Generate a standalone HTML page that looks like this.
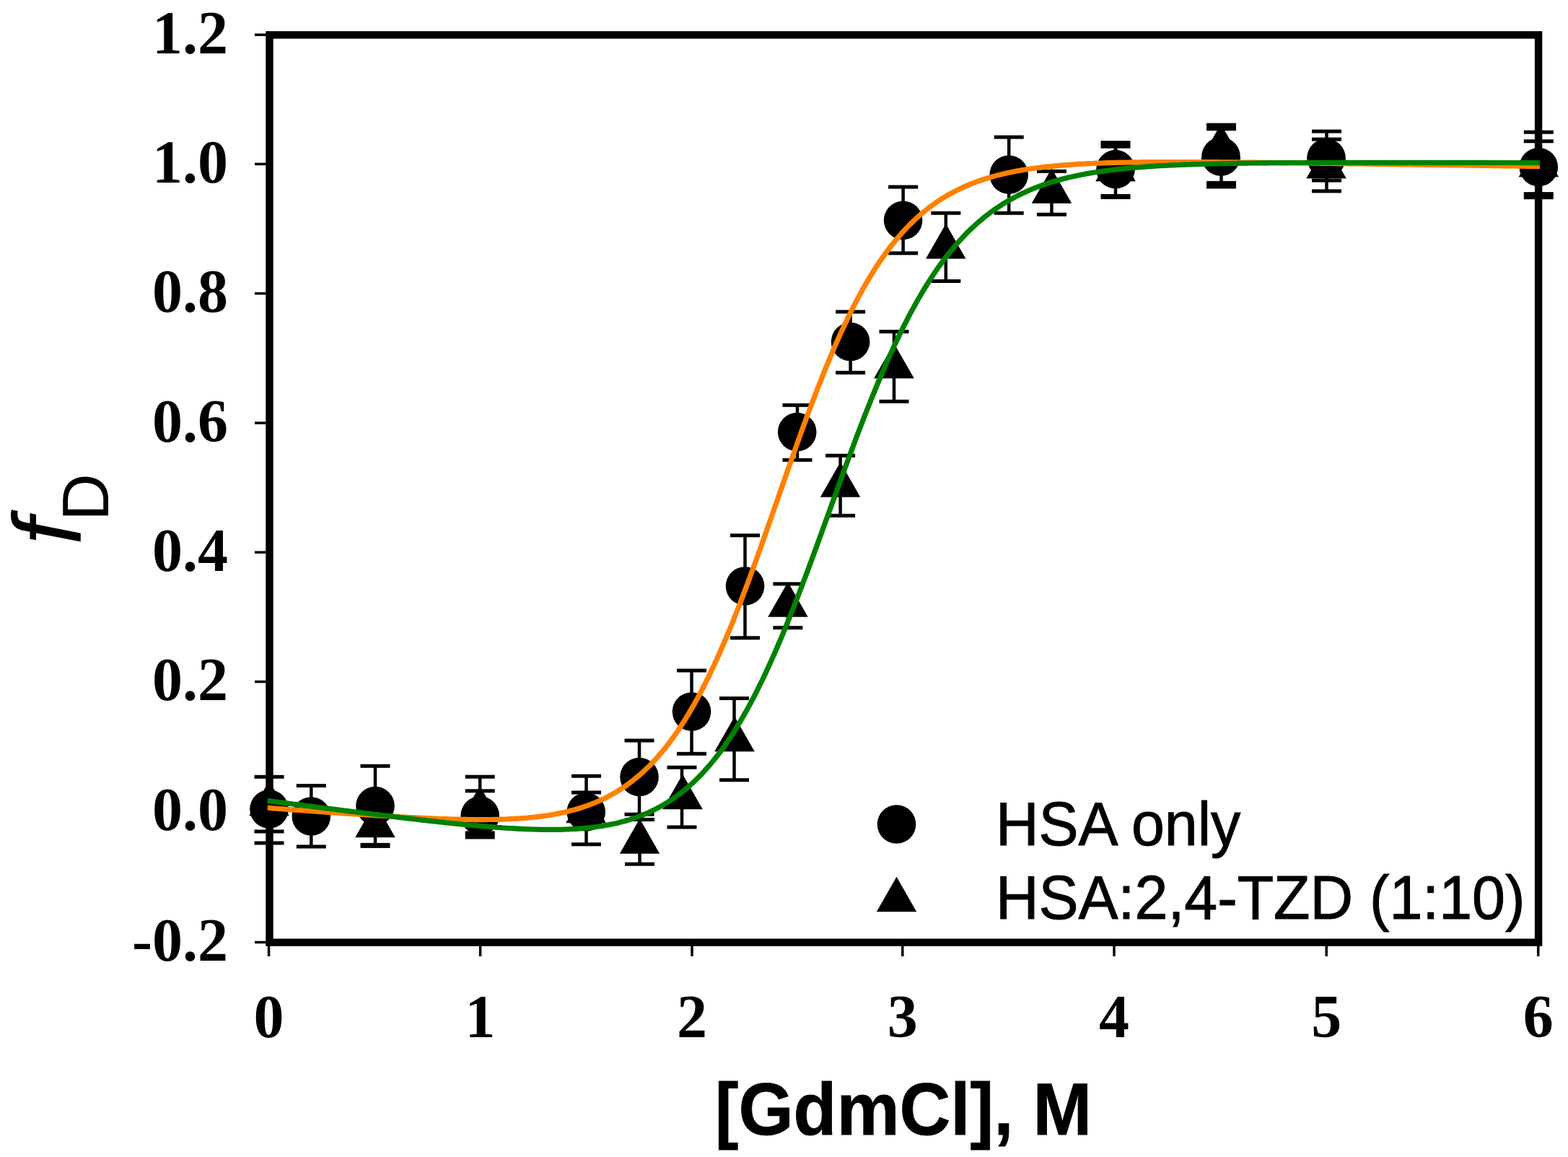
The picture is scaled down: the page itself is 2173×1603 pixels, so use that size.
<!DOCTYPE html><html><head><meta charset="utf-8"><style>html,body{margin:0;padding:0;background:#fff;}svg{display:block;}</style></head><body>
<svg width="2173" height="1603" viewBox="0 0 2173 1603">
<rect width="2173" height="1603" fill="#fff"/>
<rect x="373.5" y="48.4" width="1758.6" height="1257.3" fill="none" stroke="#000" stroke-width="10.4"/>
<g stroke="#000" stroke-width="4.5" fill="none">
<path d="M373,1076.3 V1168"/>
<path d="M431.3,1088.5 V1173"/>
<path d="M520,1061.3 V1171.4"/>
<path d="M665.2,1076.2 V1161"/>
<path d="M812.5,1075.2 V1169.8"/>
<path d="M886,1026 V1128.3"/>
<path d="M886.5,1135.5 V1197.2"/>
<path d="M958.5,929 V1044.3"/>
<path d="M945,1063.2 V1146"/>
<path d="M1017.5,967.5 V1080.7"/>
<path d="M1032.5,741.8 V883.8"/>
<path d="M1091.9,809 V869.7"/>
<path d="M1105,561.3 V637.3"/>
<path d="M1164.6,631.2 V714.4"/>
<path d="M1178.6,432 V516.3"/>
<path d="M1239,459.4 V556.2"/>
<path d="M1251.6,259 V350.8"/>
<path d="M1310.8,295.2 V389.5"/>
<path d="M1398.2,190 V295.2"/>
<path d="M1457.4,237.3 V297.2"/>
<path d="M1546,200.3 V272.4"/>
<path d="M1692.5,175.8 V256.1"/>
<path d="M1838.5,182 V264.8"/>
<path d="M2132.3,183.1 V271.1"/>
</g>
<g fill="#000">
<rect x="352.5" y="1073.80" width="41" height="5"/>
<rect x="352.5" y="1149.50" width="41" height="5"/>
<rect x="352.5" y="1165.50" width="41" height="5"/>
<rect x="410.8" y="1086.00" width="41" height="5"/>
<rect x="410.8" y="1170.50" width="41" height="5"/>
<rect x="499.5" y="1058.80" width="41" height="5"/>
<rect x="499.5" y="1167.90" width="41" height="7"/>
<rect x="644.7" y="1073.70" width="41" height="5"/>
<rect x="644.7" y="1093.30" width="41" height="5"/>
<rect x="792.0" y="1072.70" width="41" height="5"/>
<rect x="792.0" y="1095.50" width="41" height="5"/>
<rect x="792.0" y="1167.30" width="41" height="5"/>
<rect x="865.5" y="1023.50" width="41" height="5"/>
<rect x="865.5" y="1125.80" width="41" height="5"/>
<rect x="866.0" y="1133.00" width="41" height="5"/>
<rect x="866.0" y="1194.70" width="41" height="5"/>
<rect x="938.0" y="926.50" width="41" height="5"/>
<rect x="938.0" y="1041.80" width="41" height="5"/>
<rect x="924.5" y="1060.70" width="41" height="5"/>
<rect x="924.5" y="1143.50" width="41" height="5"/>
<rect x="997.0" y="965.00" width="41" height="5"/>
<rect x="997.0" y="1078.20" width="41" height="5"/>
<rect x="1012.0" y="739.30" width="41" height="5"/>
<rect x="1012.0" y="881.30" width="41" height="5"/>
<rect x="1071.4" y="806.50" width="41" height="5"/>
<rect x="1071.4" y="867.20" width="41" height="5"/>
<rect x="1084.5" y="558.80" width="41" height="5"/>
<rect x="1084.5" y="634.80" width="41" height="5"/>
<rect x="1144.1" y="628.70" width="41" height="5"/>
<rect x="1144.1" y="711.90" width="41" height="5"/>
<rect x="1158.1" y="429.50" width="41" height="5"/>
<rect x="1158.1" y="513.80" width="41" height="5"/>
<rect x="1218.5" y="456.90" width="41" height="5"/>
<rect x="1218.5" y="553.70" width="41" height="5"/>
<rect x="1231.1" y="256.50" width="41" height="5"/>
<rect x="1231.1" y="348.30" width="41" height="5"/>
<rect x="1290.3" y="292.70" width="41" height="5"/>
<rect x="1290.3" y="387.00" width="41" height="5"/>
<rect x="1377.7" y="187.50" width="41" height="5"/>
<rect x="1377.7" y="292.70" width="41" height="5"/>
<rect x="1436.9" y="234.80" width="41" height="5"/>
<rect x="1436.9" y="294.70" width="41" height="5"/>
<rect x="1525.5" y="195.05" width="41" height="10.5"/>
<rect x="1525.5" y="268.90" width="41" height="7"/>
<rect x="1672.0" y="170.55" width="41" height="10.5"/>
<rect x="1672.0" y="250.85" width="41" height="10.5"/>
<rect x="1818.0" y="179.50" width="41" height="5"/>
<rect x="1818.0" y="190.50" width="41" height="5"/>
<rect x="1818.0" y="247.50" width="41" height="5"/>
<rect x="1818.0" y="262.30" width="41" height="5"/>
<rect x="2111.8" y="180.60" width="41" height="5"/>
<rect x="2111.8" y="193.20" width="41" height="5"/>
<rect x="2111.8" y="266.10" width="41" height="10"/>
<rect x="644.7" y="1151.50" width="41" height="11"/>
</g>
<g fill="#000">
<circle cx="373" cy="1121" r="26.8"/>
<circle cx="431.3" cy="1131" r="26.8"/>
<circle cx="520" cy="1116.6" r="26.8"/>
<circle cx="665.2" cy="1130" r="26.8"/>
<circle cx="812.2" cy="1125" r="26.8"/>
<circle cx="886" cy="1076.5" r="26.8"/>
<circle cx="958.5" cy="986" r="26.8"/>
<circle cx="1032.5" cy="812" r="26.8"/>
<circle cx="1104.7" cy="598.6" r="26.8"/>
<circle cx="1178.6" cy="473.5" r="26.8"/>
<circle cx="1251.6" cy="305.3" r="26.8"/>
<circle cx="1398.2" cy="242" r="26.8"/>
<circle cx="1546" cy="234.6" r="26.8"/>
<circle cx="1692" cy="217" r="26.8"/>
<circle cx="1838" cy="219" r="26.8"/>
<circle cx="2132.3" cy="231.5" r="26.8"/>
<path d="M373,1081.7 L400.8,1130.2 L345.2,1130.2Z"/>
<path d="M520,1111.7 L547.8,1160.2 L492.2,1160.2Z"/>
<path d="M665,1088.7 L692.8,1137.2 L637.2,1137.2Z"/>
<path d="M886.5,1134.2 L914.2,1182.7 L858.8,1182.7Z"/>
<path d="M946,1072.7 L973.8,1121.2 L918.2,1121.2Z"/>
<path d="M1018,992.7 L1045.8,1041.2 L990.2,1041.2Z"/>
<path d="M1091.9,806.2 L1119.7,854.7 L1064.2,854.7Z"/>
<path d="M1164.6,640.2 L1192.3,688.7 L1136.8,688.7Z"/>
<path d="M1239,475.7 L1266.8,524.2 L1211.2,524.2Z"/>
<path d="M1310.8,309.9 L1338.5,358.4 L1283.0,358.4Z"/>
<path d="M1457.4,233.2 L1485.2,281.7 L1429.7,281.7Z"/>
<path d="M1546,202.7 L1573.8,251.2 L1518.2,251.2Z"/>
<path d="M1692,171.7 L1719.8,220.2 L1664.2,220.2Z"/>
<path d="M1838,198.7 L1865.8,247.2 L1810.2,247.2Z"/>
<path d="M2132.3,196.7 L2160.1,245.2 L2104.6,245.2Z"/>
<path d="M812,1091.7 L839.8,1140.2 L784.2,1140.2Z"/>
</g>
<path d="M370.7,1119.2 L374.3,1119.5 L377.8,1119.8 L381.3,1120.0 L384.9,1120.3 L388.4,1120.5 L391.9,1120.8 L395.5,1121.1 L399.0,1121.3 L402.6,1121.6 L406.1,1121.8 L409.6,1122.1 L413.2,1122.4 L416.7,1122.6 L420.2,1122.9 L423.8,1123.1 L427.3,1123.4 L430.8,1123.6 L434.4,1123.9 L437.9,1124.1 L441.4,1124.4 L445.0,1124.6 L448.5,1124.9 L452.0,1125.1 L455.6,1125.4 L459.1,1125.6 L462.6,1125.9 L466.2,1126.1 L469.7,1126.4 L473.2,1126.6 L476.8,1126.8 L480.3,1127.1 L483.8,1127.3 L487.4,1127.6 L490.9,1127.8 L494.4,1128.0 L498.0,1128.3 L501.5,1128.5 L505.0,1128.7 L508.6,1129.0 L512.1,1129.2 L515.6,1129.4 L519.2,1129.6 L522.7,1129.9 L526.2,1130.1 L529.8,1130.3 L533.3,1130.5 L536.8,1130.7 L540.4,1131.0 L543.9,1131.2 L547.4,1131.4 L551.0,1131.6 L554.5,1131.8 L558.0,1132.0 L561.6,1132.2 L565.1,1132.4 L568.6,1132.5 L572.2,1132.7 L575.7,1132.9 L579.2,1133.1 L582.8,1133.3 L586.3,1133.4 L589.8,1133.6 L593.4,1133.8 L596.9,1133.9 L600.4,1134.1 L604.0,1134.2 L607.5,1134.3 L611.0,1134.5 L614.6,1134.6 L618.1,1134.7 L621.6,1134.8 L625.2,1134.9 L628.7,1135.0 L632.2,1135.1 L635.8,1135.2 L639.3,1135.3 L642.8,1135.4 L646.4,1135.4 L649.9,1135.5 L653.4,1135.5 L657.0,1135.6 L660.5,1135.6 L664.0,1135.6 L667.6,1135.6 L671.1,1135.6 L674.6,1135.6 L678.2,1135.5 L681.7,1135.5 L685.2,1135.4 L688.8,1135.3 L692.3,1135.3 L695.8,1135.1 L699.4,1135.0 L702.9,1134.9 L706.4,1134.7 L710.0,1134.5 L713.5,1134.4 L717.0,1134.1 L720.6,1133.9 L724.1,1133.6 L727.6,1133.4 L731.2,1133.1 L734.7,1132.7 L738.3,1132.4 L741.8,1132.0 L745.3,1131.6 L748.9,1131.1 L752.4,1130.7 L755.9,1130.2 L759.5,1129.6 L763.0,1129.1 L766.5,1128.5 L770.1,1127.8 L773.6,1127.1 L777.1,1126.4 L780.7,1125.7 L784.2,1124.9 L787.7,1124.0 L791.3,1123.1 L794.8,1122.2 L798.3,1121.2 L801.9,1120.2 L805.4,1119.1 L808.9,1117.9 L812.5,1116.7 L816.0,1115.4 L819.5,1114.1 L823.1,1112.7 L826.6,1111.2 L830.1,1109.7 L833.7,1108.1 L837.2,1106.4 L840.7,1104.7 L844.3,1102.8 L847.8,1100.9 L851.3,1098.9 L854.9,1096.8 L858.4,1094.6 L861.9,1092.3 L865.5,1090.0 L869.0,1087.5 L872.5,1084.9 L876.1,1082.2 L879.6,1079.4 L883.1,1076.5 L886.7,1073.5 L890.2,1070.3 L893.7,1067.1 L897.3,1063.7 L900.8,1060.2 L904.3,1056.5 L907.9,1052.7 L911.4,1048.8 L914.9,1044.7 L918.5,1040.5 L922.0,1036.2 L925.5,1031.7 L929.1,1027.0 L932.6,1022.2 L936.1,1017.2 L939.7,1012.1 L943.2,1006.8 L946.7,1001.3 L950.3,995.7 L953.8,989.9 L957.3,983.9 L960.9,977.8 L964.4,971.5 L967.9,965.0 L971.5,958.4 L975.0,951.5 L978.5,944.5 L982.1,937.4 L985.6,930.0 L989.1,922.5 L992.7,914.8 L996.2,907.0 L999.7,899.0 L1003.3,890.8 L1006.8,882.5 L1010.3,874.1 L1013.9,865.4 L1017.4,856.7 L1020.9,847.8 L1024.5,838.7 L1028.0,829.6 L1031.5,820.3 L1035.1,810.9 L1038.6,801.4 L1042.1,791.8 L1045.7,782.1 L1049.2,772.3 L1052.7,762.5 L1056.3,752.6 L1059.8,742.6 L1063.3,732.5 L1066.9,722.5 L1070.4,712.4 L1073.9,702.2 L1077.5,692.1 L1081.0,682.0 L1084.6,671.8 L1088.1,661.7 L1091.6,651.6 L1095.2,641.6 L1098.7,631.6 L1102.2,621.6 L1105.8,611.7 L1109.3,601.9 L1112.8,592.1 L1116.4,582.5 L1119.9,572.9 L1123.4,563.5 L1127.0,554.1 L1130.5,544.9 L1134.0,535.7 L1137.6,526.8 L1141.1,517.9 L1144.6,509.2 L1148.2,500.6 L1151.7,492.2 L1155.2,483.9 L1158.8,475.8 L1162.3,467.9 L1165.8,460.1 L1169.4,452.4 L1172.9,444.9 L1176.4,437.6 L1180.0,430.5 L1183.5,423.5 L1187.0,416.7 L1190.6,410.1 L1194.1,403.6 L1197.6,397.3 L1201.2,391.2 L1204.7,385.2 L1208.2,379.4 L1211.8,373.8 L1215.3,368.3 L1218.8,363.0 L1222.4,357.9 L1225.9,352.9 L1229.4,348.0 L1233.0,343.3 L1236.5,338.8 L1240.0,334.4 L1243.6,330.1 L1247.1,326.0 L1250.6,322.0 L1254.2,318.1 L1257.7,314.4 L1261.2,310.8 L1264.8,307.3 L1268.3,304.0 L1271.8,300.7 L1275.4,297.6 L1278.9,294.6 L1282.4,291.7 L1286.0,288.9 L1289.5,286.2 L1293.0,283.6 L1296.6,281.1 L1300.1,278.7 L1303.6,276.4 L1307.2,274.2 L1310.7,272.0 L1314.2,270.0 L1317.8,268.0 L1321.3,266.1 L1324.8,264.2 L1328.4,262.5 L1331.9,260.8 L1335.4,259.2 L1339.0,257.6 L1342.5,256.1 L1346.0,254.7 L1349.6,253.3 L1353.1,251.9 L1356.6,250.7 L1360.2,249.5 L1363.7,248.3 L1367.2,247.2 L1370.8,246.1 L1374.3,245.1 L1377.8,244.1 L1381.4,243.1 L1384.9,242.2 L1388.4,241.4 L1392.0,240.5 L1395.5,239.7 L1399.0,239.0 L1402.6,238.2 L1406.1,237.5 L1409.6,236.9 L1413.2,236.2 L1416.7,235.6 L1420.2,235.0 L1423.8,234.5 L1427.3,234.0 L1430.9,233.4 L1434.4,233.0 L1437.9,232.5 L1441.5,232.1 L1445.0,231.6 L1448.5,231.2 L1452.1,230.8 L1455.6,230.5 L1459.1,230.1 L1462.7,229.8 L1466.2,229.5 L1469.7,229.2 L1473.3,228.9 L1476.8,228.6 L1480.3,228.3 L1483.9,228.1 L1487.4,227.9 L1490.9,227.6 L1494.5,227.4 L1498.0,227.2 L1501.5,227.0 L1505.1,226.9 L1508.6,226.7 L1512.1,226.5 L1515.7,226.4 L1519.2,226.2 L1522.7,226.1 L1526.3,226.0 L1529.8,225.8 L1533.3,225.7 L1536.9,225.6 L1540.4,225.5 L1543.9,225.4 L1547.5,225.3 L1551.0,225.2 L1554.5,225.2 L1558.1,225.1 L1561.6,225.0 L1565.1,225.0 L1568.7,224.9 L1572.2,224.9 L1575.7,224.8 L1579.3,224.8 L1582.8,224.7 L1586.3,224.7 L1589.9,224.7 L1593.4,224.6 L1596.9,224.6 L1600.5,224.6 L1604.0,224.6 L1607.5,224.5 L1611.1,224.5 L1614.6,224.5 L1618.1,224.5 L1621.7,224.5 L1625.2,224.5 L1628.7,224.5 L1632.3,224.5 L1635.8,224.5 L1639.3,224.5 L1642.9,224.5 L1646.4,224.5 L1649.9,224.5 L1653.5,224.5 L1657.0,224.5 L1660.5,224.6 L1664.1,224.6 L1667.6,224.6 L1671.1,224.6 L1674.7,224.6 L1678.2,224.7 L1681.7,224.7 L1685.3,224.7 L1688.8,224.7 L1692.3,224.8 L1695.9,224.8 L1699.4,224.8 L1702.9,224.8 L1706.5,224.9 L1710.0,224.9 L1713.5,224.9 L1717.1,225.0 L1720.6,225.0 L1724.1,225.0 L1727.7,225.1 L1731.2,225.1 L1734.7,225.1 L1738.3,225.2 L1741.8,225.2 L1745.3,225.3 L1748.9,225.3 L1752.4,225.3 L1755.9,225.4 L1759.5,225.4 L1763.0,225.4 L1766.5,225.5 L1770.1,225.5 L1773.6,225.6 L1777.2,225.6 L1780.7,225.7 L1784.2,225.7 L1787.8,225.7 L1791.3,225.8 L1794.8,225.8 L1798.4,225.9 L1801.9,225.9 L1805.4,226.0 L1809.0,226.0 L1812.5,226.0 L1816.0,226.1 L1819.6,226.1 L1823.1,226.2 L1826.6,226.2 L1830.2,226.3 L1833.7,226.3 L1837.2,226.4 L1840.8,226.4 L1844.3,226.5 L1847.8,226.5 L1851.4,226.6 L1854.9,226.6 L1858.4,226.7 L1862.0,226.7 L1865.5,226.7 L1869.0,226.8 L1872.6,226.8 L1876.1,226.9 L1879.6,226.9 L1883.2,227.0 L1886.7,227.0 L1890.2,227.1 L1893.8,227.1 L1897.3,227.2 L1900.8,227.2 L1904.4,227.3 L1907.9,227.3 L1911.4,227.4 L1915.0,227.4 L1918.5,227.5 L1922.0,227.5 L1925.6,227.6 L1929.1,227.6 L1932.6,227.7 L1936.2,227.7 L1939.7,227.8 L1943.2,227.8 L1946.8,227.9 L1950.3,227.9 L1953.8,228.0 L1957.4,228.0 L1960.9,228.1 L1964.4,228.1 L1968.0,228.2 L1971.5,228.2 L1975.0,228.3 L1978.6,228.3 L1982.1,228.4 L1985.6,228.4 L1989.2,228.5 L1992.7,228.5 L1996.2,228.6 L1999.8,228.6 L2003.3,228.7 L2006.8,228.7 L2010.4,228.8 L2013.9,228.8 L2017.4,228.9 L2021.0,228.9 L2024.5,229.0 L2028.0,229.0 L2031.6,229.1 L2035.1,229.1 L2038.6,229.2 L2042.2,229.2 L2045.7,229.3 L2049.2,229.3 L2052.8,229.4 L2056.3,229.4 L2059.8,229.5 L2063.4,229.5 L2066.9,229.6 L2070.4,229.6 L2074.0,229.7 L2077.5,229.7 L2081.0,229.8 L2084.6,229.8 L2088.1,229.9 L2091.6,229.9 L2095.2,230.0 L2098.7,230.0 L2102.2,230.1 L2105.8,230.1 L2109.3,230.2 L2112.9,230.2 L2116.4,230.3 L2119.9,230.3 L2123.5,230.4 L2127.0,230.4 L2130.5,230.5 L2134.1,230.5" stroke="#ff8000" stroke-width="7.2" fill="none"/>
<path d="M370.7,1109.4 L374.3,1109.9 L377.8,1110.3 L381.3,1110.8 L384.9,1111.2 L388.4,1111.7 L391.9,1112.1 L395.5,1112.6 L399.0,1113.1 L402.6,1113.5 L406.1,1114.0 L409.6,1114.4 L413.2,1114.9 L416.7,1115.3 L420.2,1115.8 L423.8,1116.2 L427.3,1116.7 L430.8,1117.1 L434.4,1117.6 L437.9,1118.0 L441.4,1118.5 L445.0,1119.0 L448.5,1119.4 L452.0,1119.9 L455.6,1120.3 L459.1,1120.7 L462.6,1121.2 L466.2,1121.6 L469.7,1122.1 L473.2,1122.5 L476.8,1123.0 L480.3,1123.4 L483.8,1123.9 L487.4,1124.3 L490.9,1124.8 L494.4,1125.2 L498.0,1125.6 L501.5,1126.1 L505.0,1126.5 L508.6,1127.0 L512.1,1127.4 L515.6,1127.8 L519.2,1128.3 L522.7,1128.7 L526.2,1129.1 L529.8,1129.6 L533.3,1130.0 L536.8,1130.4 L540.4,1130.9 L543.9,1131.3 L547.4,1131.7 L551.0,1132.1 L554.5,1132.6 L558.0,1133.0 L561.6,1133.4 L565.1,1133.8 L568.6,1134.2 L572.2,1134.6 L575.7,1135.0 L579.2,1135.4 L582.8,1135.9 L586.3,1136.3 L589.8,1136.7 L593.4,1137.1 L596.9,1137.4 L600.4,1137.8 L604.0,1138.2 L607.5,1138.6 L611.0,1139.0 L614.6,1139.4 L618.1,1139.8 L621.6,1140.1 L625.2,1140.5 L628.7,1140.9 L632.2,1141.2 L635.8,1141.6 L639.3,1141.9 L642.8,1142.3 L646.4,1142.6 L649.9,1143.0 L653.4,1143.3 L657.0,1143.6 L660.5,1143.9 L664.0,1144.3 L667.6,1144.6 L671.1,1144.9 L674.6,1145.2 L678.2,1145.5 L681.7,1145.7 L685.2,1146.0 L688.8,1146.3 L692.3,1146.5 L695.8,1146.8 L699.4,1147.0 L702.9,1147.3 L706.4,1147.5 L710.0,1147.7 L713.5,1147.9 L717.0,1148.1 L720.6,1148.3 L724.1,1148.5 L727.6,1148.6 L731.2,1148.8 L734.7,1148.9 L738.3,1149.0 L741.8,1149.1 L745.3,1149.2 L748.9,1149.3 L752.4,1149.3 L755.9,1149.4 L759.5,1149.4 L763.0,1149.4 L766.5,1149.4 L770.1,1149.4 L773.6,1149.3 L777.1,1149.3 L780.7,1149.2 L784.2,1149.0 L787.7,1148.9 L791.3,1148.7 L794.8,1148.6 L798.3,1148.3 L801.9,1148.1 L805.4,1147.8 L808.9,1147.5 L812.5,1147.2 L816.0,1146.8 L819.5,1146.4 L823.1,1146.0 L826.6,1145.5 L830.1,1145.0 L833.7,1144.5 L837.2,1143.9 L840.7,1143.3 L844.3,1142.6 L847.8,1141.9 L851.3,1141.2 L854.9,1140.4 L858.4,1139.5 L861.9,1138.6 L865.5,1137.7 L869.0,1136.7 L872.5,1135.6 L876.1,1134.5 L879.6,1133.3 L883.1,1132.0 L886.7,1130.7 L890.2,1129.3 L893.7,1127.9 L897.3,1126.4 L900.8,1124.8 L904.3,1123.1 L907.9,1121.4 L911.4,1119.5 L914.9,1117.6 L918.5,1115.6 L922.0,1113.5 L925.5,1111.3 L929.1,1109.1 L932.6,1106.7 L936.1,1104.2 L939.7,1101.6 L943.2,1098.9 L946.7,1096.2 L950.3,1093.3 L953.8,1090.2 L957.3,1087.1 L960.9,1083.9 L964.4,1080.5 L967.9,1077.0 L971.5,1073.4 L975.0,1069.6 L978.5,1065.7 L982.1,1061.7 L985.6,1057.5 L989.1,1053.2 L992.7,1048.8 L996.2,1044.2 L999.7,1039.5 L1003.3,1034.6 L1006.8,1029.5 L1010.3,1024.3 L1013.9,1019.0 L1017.4,1013.5 L1020.9,1007.8 L1024.5,1002.0 L1028.0,996.0 L1031.5,989.9 L1035.1,983.6 L1038.6,977.1 L1042.1,970.5 L1045.7,963.7 L1049.2,956.8 L1052.7,949.7 L1056.3,942.5 L1059.8,935.1 L1063.3,927.5 L1066.9,919.8 L1070.4,911.9 L1073.9,904.0 L1077.5,895.8 L1081.0,887.5 L1084.6,879.1 L1088.1,870.6 L1091.6,861.9 L1095.2,853.2 L1098.7,844.3 L1102.2,835.3 L1105.8,826.2 L1109.3,817.0 L1112.8,807.7 L1116.4,798.3 L1119.9,788.9 L1123.4,779.4 L1127.0,769.8 L1130.5,760.2 L1134.0,750.5 L1137.6,740.8 L1141.1,731.0 L1144.6,721.3 L1148.2,711.5 L1151.7,701.7 L1155.2,692.0 L1158.8,682.2 L1162.3,672.5 L1165.8,662.8 L1169.4,653.1 L1172.9,643.5 L1176.4,633.9 L1180.0,624.4 L1183.5,614.9 L1187.0,605.5 L1190.6,596.2 L1194.1,587.0 L1197.6,577.9 L1201.2,568.9 L1204.7,560.0 L1208.2,551.2 L1211.8,542.5 L1215.3,533.9 L1218.8,525.5 L1222.4,517.2 L1225.9,509.0 L1229.4,500.9 L1233.0,493.0 L1236.5,485.2 L1240.0,477.6 L1243.6,470.1 L1247.1,462.8 L1250.6,455.6 L1254.2,448.6 L1257.7,441.7 L1261.2,435.0 L1264.8,428.4 L1268.3,422.0 L1271.8,415.7 L1275.4,409.6 L1278.9,403.6 L1282.4,397.8 L1286.0,392.1 L1289.5,386.6 L1293.0,381.3 L1296.6,376.0 L1300.1,370.9 L1303.6,366.0 L1307.2,361.2 L1310.7,356.5 L1314.2,352.0 L1317.8,347.6 L1321.3,343.3 L1324.8,339.2 L1328.4,335.2 L1331.9,331.3 L1335.4,327.5 L1339.0,323.8 L1342.5,320.3 L1346.0,316.9 L1349.6,313.6 L1353.1,310.3 L1356.6,307.2 L1360.2,304.2 L1363.7,301.3 L1367.2,298.5 L1370.8,295.8 L1374.3,293.2 L1377.8,290.7 L1381.4,288.2 L1384.9,285.9 L1388.4,283.6 L1392.0,281.4 L1395.5,279.3 L1399.0,277.2 L1402.6,275.3 L1406.1,273.3 L1409.6,271.5 L1413.2,269.7 L1416.7,268.0 L1420.2,266.4 L1423.8,264.8 L1427.3,263.3 L1430.9,261.8 L1434.4,260.4 L1437.9,259.0 L1441.5,257.7 L1445.0,256.4 L1448.5,255.2 L1452.1,254.0 L1455.6,252.9 L1459.1,251.8 L1462.7,250.8 L1466.2,249.7 L1469.7,248.8 L1473.3,247.8 L1476.8,246.9 L1480.3,246.1 L1483.9,245.2 L1487.4,244.4 L1490.9,243.7 L1494.5,242.9 L1498.0,242.2 L1501.5,241.5 L1505.1,240.9 L1508.6,240.2 L1512.1,239.6 L1515.7,239.0 L1519.2,238.5 L1522.7,237.9 L1526.3,237.4 L1529.8,236.9 L1533.3,236.4 L1536.9,236.0 L1540.4,235.5 L1543.9,235.1 L1547.5,234.7 L1551.0,234.3 L1554.5,233.9 L1558.1,233.6 L1561.6,233.2 L1565.1,232.9 L1568.7,232.5 L1572.2,232.2 L1575.7,231.9 L1579.3,231.7 L1582.8,231.4 L1586.3,231.1 L1589.9,230.9 L1593.4,230.6 L1596.9,230.4 L1600.5,230.2 L1604.0,229.9 L1607.5,229.7 L1611.1,229.5 L1614.6,229.4 L1618.1,229.2 L1621.7,229.0 L1625.2,228.8 L1628.7,228.7 L1632.3,228.5 L1635.8,228.4 L1639.3,228.2 L1642.9,228.1 L1646.4,228.0 L1649.9,227.8 L1653.5,227.7 L1657.0,227.6 L1660.5,227.5 L1664.1,227.4 L1667.6,227.3 L1671.1,227.2 L1674.7,227.1 L1678.2,227.0 L1681.7,226.9 L1685.3,226.8 L1688.8,226.8 L1692.3,226.7 L1695.9,226.6 L1699.4,226.5 L1702.9,226.5 L1706.5,226.4 L1710.0,226.4 L1713.5,226.3 L1717.1,226.2 L1720.6,226.2 L1724.1,226.1 L1727.7,226.1 L1731.2,226.0 L1734.7,226.0 L1738.3,226.0 L1741.8,225.9 L1745.3,225.9 L1748.9,225.8 L1752.4,225.8 L1755.9,225.8 L1759.5,225.7 L1763.0,225.7 L1766.5,225.7 L1770.1,225.7 L1773.6,225.6 L1777.2,225.6 L1780.7,225.6 L1784.2,225.6 L1787.8,225.5 L1791.3,225.5 L1794.8,225.5 L1798.4,225.5 L1801.9,225.5 L1805.4,225.5 L1809.0,225.4 L1812.5,225.4 L1816.0,225.4 L1819.6,225.4 L1823.1,225.4 L1826.6,225.4 L1830.2,225.4 L1833.7,225.4 L1837.2,225.4 L1840.8,225.3 L1844.3,225.3 L1847.8,225.3 L1851.4,225.3 L1854.9,225.3 L1858.4,225.3 L1862.0,225.3 L1865.5,225.3 L1869.0,225.3 L1872.6,225.3 L1876.1,225.3 L1879.6,225.3 L1883.2,225.3 L1886.7,225.3 L1890.2,225.3 L1893.8,225.3 L1897.3,225.3 L1900.8,225.3 L1904.4,225.3 L1907.9,225.3 L1911.4,225.3 L1915.0,225.3 L1918.5,225.3 L1922.0,225.3 L1925.6,225.3 L1929.1,225.3 L1932.6,225.3 L1936.2,225.3 L1939.7,225.3 L1943.2,225.3 L1946.8,225.3 L1950.3,225.3 L1953.8,225.3 L1957.4,225.3 L1960.9,225.3 L1964.4,225.3 L1968.0,225.3 L1971.5,225.3 L1975.0,225.3 L1978.6,225.3 L1982.1,225.3 L1985.6,225.3 L1989.2,225.3 L1992.7,225.3 L1996.2,225.3 L1999.8,225.4 L2003.3,225.4 L2006.8,225.4 L2010.4,225.4 L2013.9,225.4 L2017.4,225.4 L2021.0,225.4 L2024.5,225.4 L2028.0,225.4 L2031.6,225.4 L2035.1,225.4 L2038.6,225.4 L2042.2,225.4 L2045.7,225.4 L2049.2,225.4 L2052.8,225.4 L2056.3,225.4 L2059.8,225.4 L2063.4,225.4 L2066.9,225.5 L2070.4,225.5 L2074.0,225.5 L2077.5,225.5 L2081.0,225.5 L2084.6,225.5 L2088.1,225.5 L2091.6,225.5 L2095.2,225.5 L2098.7,225.5 L2102.2,225.5 L2105.8,225.5 L2109.3,225.5 L2112.9,225.5 L2116.4,225.5 L2119.9,225.5 L2123.5,225.6 L2127.0,225.6 L2130.5,225.6 L2134.1,225.6" stroke="#008000" stroke-width="7.2" fill="none"/>
<g stroke="#000" stroke-width="3.5">
<line x1="353" y1="48.2" x2="374" y2="48.2"/>
<line x1="353" y1="227.3" x2="374" y2="227.3"/>
<line x1="353" y1="406.6" x2="374" y2="406.6"/>
<line x1="353" y1="586.0" x2="374" y2="586.0"/>
<line x1="353" y1="765.2" x2="374" y2="765.2"/>
<line x1="353" y1="944.5" x2="374" y2="944.5"/>
<line x1="353" y1="1124.5" x2="374" y2="1124.5"/>
<line x1="353" y1="1305.5" x2="374" y2="1305.5"/>
<line x1="372.5" y1="1305" x2="372.5" y2="1325"/>
<line x1="665.6" y1="1305" x2="665.6" y2="1325"/>
<line x1="959.0" y1="1305" x2="959.0" y2="1325"/>
<line x1="1250.8" y1="1305" x2="1250.8" y2="1325"/>
<line x1="1544.0" y1="1305" x2="1544.0" y2="1325"/>
<line x1="1838.2" y1="1305" x2="1838.2" y2="1325"/>
<line x1="2131.7" y1="1305" x2="2131.7" y2="1325"/>
</g>
<g font-family="'Liberation Serif', serif" font-weight="bold" font-size="84" fill="#000">
<text x="316" y="73.7" text-anchor="end">1.2</text>
<text x="316" y="252.8" text-anchor="end">1.0</text>
<text x="316" y="432.1" text-anchor="end">0.8</text>
<text x="316" y="611.5" text-anchor="end">0.6</text>
<text x="316" y="790.7" text-anchor="end">0.4</text>
<text x="316" y="970.0" text-anchor="end">0.2</text>
<text x="316" y="1150.0" text-anchor="end">0.0</text>
<text x="316" y="1331.0" text-anchor="end">-0.2</text>
<text x="372.5" y="1437" text-anchor="middle">0</text>
<text x="665.6" y="1437" text-anchor="middle">1</text>
<text x="959.0" y="1437" text-anchor="middle">2</text>
<text x="1250.8" y="1437" text-anchor="middle">3</text>
<text x="1544.0" y="1437" text-anchor="middle">4</text>
<text x="1838.2" y="1437" text-anchor="middle">5</text>
<text x="2131.7" y="1437" text-anchor="middle">6</text>
</g>
<text transform="translate(1252,1571.5) scale(1,1.044)" text-anchor="middle" font-family="'Liberation Sans', Arial, sans-serif" font-weight="bold" font-size="98" stroke="#000" stroke-width="0.8">[GdmCl], M</text>
<text transform="translate(112,755) rotate(-90)" font-family="'Liberation Sans', Arial, sans-serif" font-size="134"><tspan font-style="italic">f</tspan><tspan font-size="91" dy="38" dx="-4">D</tspan></text>
<circle cx="1242.5" cy="1142" r="26.8" fill="#000"/>
<path d="M1242.5,1214.7 L1270.2,1263.2 L1214.8,1263.2Z" fill="#000"/>
<g font-family="'Liberation Sans', Arial, sans-serif" font-size="82.5" fill="#000">
<text transform="translate(1380,1171.3) scale(1,1.04)" stroke="#000" stroke-width="1">HSA only</text>
<text transform="translate(1380,1273.2) scale(1,1.04)" stroke="#000" stroke-width="1">HSA:2,4-TZD (1:10)</text>
</g>
</svg></body></html>
